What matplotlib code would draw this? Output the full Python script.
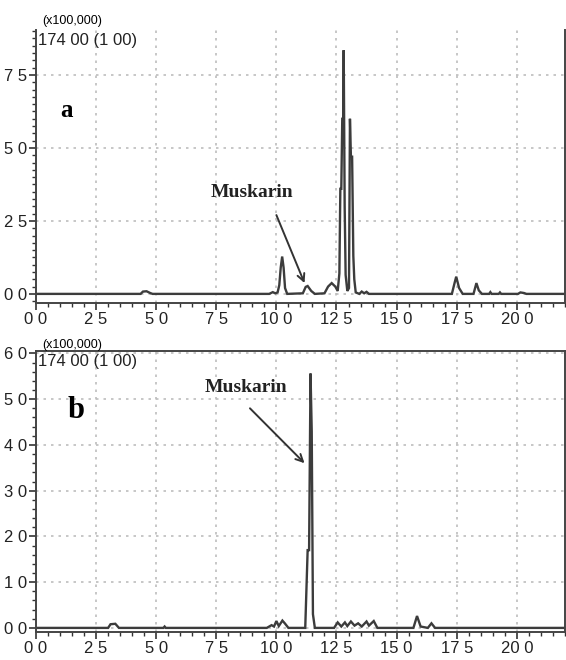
"""Two stacked chromatograms (m/z 174) with the Muskarin peak marked."""

import matplotlib

matplotlib.use("Agg")

import matplotlib.pyplot as plt
from matplotlib.ticker import MultipleLocator

# retention time (min) and intensity (x100,000)
time_a = [0.0, 4.35, 4.45, 4.6, 4.75, 4.85, 9.7, 9.85, 9.95, 10.05, 10.12, 10.18,
          10.24, 10.3, 10.36, 10.45, 11.1, 11.22, 11.3, 11.45, 11.6, 12.0, 12.15,
          12.3, 12.45, 12.55, 12.62, 12.66, 12.7, 12.74, 12.78, 12.8, 12.84, 12.88,
          12.95, 13.02, 13.06, 13.1, 13.15, 13.2, 13.24, 13.3, 13.45, 13.55, 13.65,
          13.75, 13.85, 17.3, 17.42, 17.48, 17.6, 17.75, 18.2, 18.32, 18.42, 18.55,
          18.85, 18.9, 18.95, 19.25, 19.3, 19.35, 20.05, 20.15, 20.3, 20.4, 22.0]
signal_a = [0.0, 0.0, 0.8, 0.9, 0.3, 0.0, 0.0, 0.6, 0.2, 0.5, 3.0, 9.0,
            12.8, 9.0, 2.0, 0.0, 0.2, 2.4, 2.7, 1.0, 0.0, 0.2, 2.5,
            3.7, 2.5, 1.0, 7.0, 36.0, 36.0, 60.0, 60.0, 83.5, 30.0, 6.5,
            1.0, 2.0, 60.0, 47.0, 47.0, 13.0, 5.0, 0.5, 0.0, 0.8, 0.2,
            0.7, 0.0, 0.0, 4.0, 5.9, 2.0, 0.0, 0.0, 3.7, 1.2, 0.0,
            0.0, 0.6, 0.0, 0.0, 0.5, 0.0, 0.0, 0.5, 0.3, 0.0, 0.0]

time_b = [0.0, 3.0, 3.1, 3.3, 3.45, 5.3, 5.35, 5.4, 9.6, 9.8, 9.9, 10.0, 10.1,
          10.25, 10.35, 10.5, 11.2, 11.3, 11.36, 11.42, 11.47, 11.52, 11.6,
          12.4, 12.55, 12.7, 12.85, 12.95, 13.1, 13.25, 13.4, 13.55, 13.75,
          13.85, 14.05, 14.2, 15.7, 15.85, 16.0, 16.3, 16.45, 16.6, 22.0]
signal_b = [0.0, 0.0, 0.8, 0.9, 0.0, 0.0, 0.3, 0.0, 0.0, 0.6, 0.3, 1.5, 0.4,
            1.6, 1.0, 0.0, 0.0, 17.0, 17.0, 55.6, 43.0, 3.0, 0.0,
            0.0, 1.2, 0.3, 1.2, 0.4, 1.4, 0.5, 1.0, 0.3, 1.4,
            0.5, 1.5, 0.0, 0.0, 2.6, 0.3, 0.0, 1.0, 0.0, 0.0]

x_ticks = [0.0, 2.5, 5.0, 7.5, 10.0, 12.5, 15.0, 17.5, 20.0]
y_ticks_a = [0, 25, 50, 75]
y_ticks_b = [0, 10, 20, 30, 40, 50, 60]

# (label text xy, arrow start xy, arrow tip xy) in data units
muskarin_a = ((9.0, 34.6), (10.0, 27.0), (11.17, 3.7))
muskarin_b = ((8.75, 52.6), (8.9, 48.0), (11.17, 36.0))

LINE = "#3c3c3c"
GRID = "#bdbdbd"
TICK_FONT = "Liberation Sans"
SERIF = "Liberation Serif"


def spaced(value):
    # the reference renders "12.5" as "12 5"
    return f"{value:.1f}".replace(".", " ")


def draw_panel(axis, times, signal, y_ticks, y_minor, ylim, letter, letter_size, letter_xy,
               muskarin, top_spine, unit_y):
    axis.plot(times, signal, color=LINE, linewidth=1.7, solid_joinstyle="miter")
    axis.set_xlim(0, 22)
    axis.set_ylim(*ylim)

    axis.set_xticks(x_ticks)
    axis.set_xticklabels([spaced(t) for t in x_ticks], fontfamily=TICK_FONT, fontsize=12,
                         color="#222222")
    axis.set_yticks(y_ticks)
    axis.set_yticklabels([spaced(v / 10) for v in y_ticks], fontfamily=TICK_FONT, fontsize=12,
                         color="#222222")
    axis.xaxis.set_minor_locator(MultipleLocator(0.5))
    axis.yaxis.set_minor_locator(MultipleLocator(y_minor))
    axis.tick_params(which="major", length=5, width=1.2, color="#333333", pad=1.5)
    axis.tick_params(which="minor", length=3, width=1.0, color="#333333")

    axis.grid(True, which="major", linestyle=(0, (1.5, 3)), color=GRID, linewidth=1.2)
    for name in ["left", "bottom", "right", "top"]:
        axis.spines[name].set_color("#444444")
        axis.spines[name].set_linewidth(1.4)
    axis.spines["top"].set_visible(top_spine)

    axis.text(0.068, unit_y, "(x100,000)", transform=axis.transAxes, fontsize=9,
              fontfamily=TICK_FONT, ha="center", va="bottom")
    axis.text(0.003, 0.99, "174 00 (1 00)", transform=axis.transAxes, fontsize=12,
              fontfamily=TICK_FONT, ha="left", va="top", color="#222222")
    axis.text(*letter_xy, letter, fontsize=letter_size, fontweight="bold", fontfamily=SERIF,
              ha="center", va="center")

    text_xy, start_xy, tip_xy = muskarin
    axis.text(*text_xy, "Muskarin", fontsize=14, fontweight="bold", fontfamily=SERIF,
              ha="center", va="center", color="#222222")
    axis.annotate("", xy=tip_xy, xytext=start_xy,
                  arrowprops=dict(arrowstyle="->", color="#333333", lw=1.4,
                                  shrinkA=0, shrinkB=0, mutation_scale=13))


figure = plt.figure(figsize=(5.66, 6.6), dpi=100)
axis_a = figure.add_axes([0.0636, 0.541, 0.9344, 0.4135])
axis_b = figure.add_axes([0.0636, 0.0424, 0.9344, 0.4256])

draw_panel(axis_a, time_a, signal_a, y_ticks_a, 2.5, (-3.1, 90.4), "a", 18, (1.25, 63),
           muskarin_a, top_spine=False, unit_y=1.012)
draw_panel(axis_b, time_b, signal_b, y_ticks_b, 2.0, (-0.9, 60.5), "b", 22, (1.65, 47.6),
           muskarin_b, top_spine=True, unit_y=1.0)

figure.savefig("out.png", dpi=100)
plt.close(figure)
